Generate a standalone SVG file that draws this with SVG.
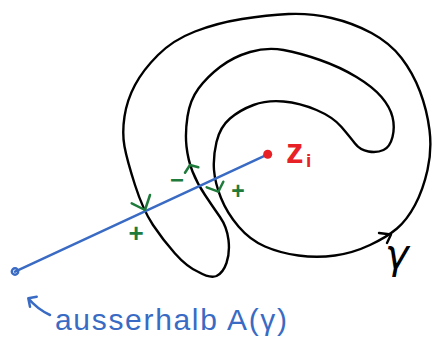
<svg xmlns="http://www.w3.org/2000/svg" width="433" height="345" viewBox="0 0 433 345">
<style>
.ink{fill:none;stroke-linecap:round;stroke-linejoin:round}
.blk{stroke:#000;stroke-width:2.4}
.blu{stroke:#3a6bc4;stroke-width:2.5}
.grn{stroke:#1f7b3b;stroke-width:2.5}
.gt{fill:#1f7b3b;font-family:"Liberation Sans",Arial,sans-serif;text-anchor:middle;font-weight:bold}
</style>
<rect width="433" height="345" fill="#fff"/>
<g id="curve-gamma">
<path class="ink blk" d="M198.5,272 Q187,267 175,253.5 Q163,240 153,225 Q143,210 135,185 Q127,160 124.5,146.5 Q122,133 124.5,116.5 Q127,100 135,85 Q143,70 158,55 Q173,40 195,31.5 Q217,23 242,19 Q267,15 288.5,14 Q310,13 331.5,18 Q353,23 371.5,33 Q390,43 401.5,58 Q413,73 420,91.5 Q427,110 429.5,130 Q432,150 427.5,170 Q423,190 415,205 Q407,220 397,228.5 Q387,237 370,245 Q353,253 335,255.5 Q317,258 298.5,255.5 Q280,253 265,246.5 Q250,240 238.5,226.5 Q227,213 221,198 Q215,183 214,170 Q213,157 216.5,142 Q220,127 230,118.5 Q240,110 253.5,105 Q267,100 283.5,101.5 Q300,103 316.5,110 Q333,117 341.5,127 Q350,137 355,143.5 Q360,150 368.5,151.5 Q377,153 383.5,150 Q390,147 392.5,137 Q395,127 392.5,117 Q390,107 381.5,97 Q373,87 356.5,77 Q340,67 320,60 Q300,53 283.5,50 Q267,47 250,52 Q233,57 220,67 Q207,77 198.5,88.5 Q190,100 187.5,116.5 Q185,133 186.5,146.5 Q188,160 192.5,171.5 Q197,183 205,195 Q213,207 220,217 Q227,227 228.5,240 Q230,253 226.5,263 Q223,273 216.5,276 Q210,278.5 198.5,272 Z"/>
<polyline class="ink blk" points="379,233 391,234.5 387,243"/>
<text x="385" y="268" font-family="DejaVu Sans, sans-serif" font-style="italic" font-size="40" fill="#000">γ</text>
</g>
<g id="connectors">
<line class="ink blu" x1="267.7" y1="154.3" x2="15" y2="271.7"/>
<circle cx="15" cy="271.5" r="3.2" fill="none" stroke="#3a6bc4" stroke-width="2.4"/>
<path class="ink blu" d="M50,315 Q37,309 28.3,298.3 M30,306.7 L28.3,298.3 L36.7,296.7"/>
</g>
<g id="point-zi">
<circle cx="267.7" cy="154.3" r="4.5" fill="#e82127"/>
<text x="286" y="163" font-family="Liberation Sans, Arial, sans-serif" font-size="35" font-weight="bold" fill="#e82127">z</text>
<text x="306" y="167" font-family="Liberation Sans, Arial, sans-serif" font-size="19" font-weight="bold" fill="#e82127">i</text>
</g>
<g id="crossings">
<path class="ink grn" d="M131.7,203.3 L145,210 L150,195"/>
<path class="ink grn" d="M185,172.7 L190,165 L198.3,167.3"/>
<path class="ink grn" d="M206.7,187.3 L218.3,191.7 L223.3,181.7"/>
<text class="gt" x="136" y="242" font-size="26">+</text>
<text class="gt" x="177" y="188" font-size="24">−</text>
<text class="gt" x="238" y="199" font-size="23">+</text>
</g>
<g id="label-outside">
<text x="55" y="330" font-family="Liberation Sans, Arial, sans-serif" font-size="30" fill="#3a6bc4" textLength="232" lengthAdjust="spacing">ausserhalb A(γ)</text>
</g>
</svg>
